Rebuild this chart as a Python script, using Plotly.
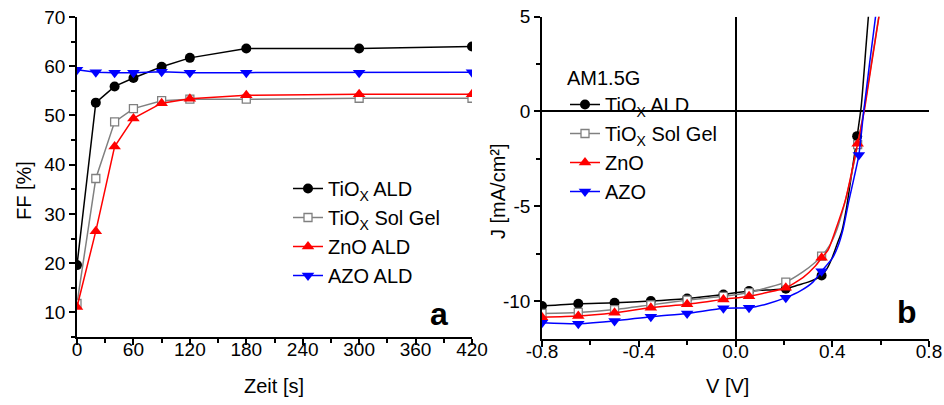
import plotly.graph_objects as go

# ---- Panel a: fill factor vs. annealing time ----
t_s = [0, 20, 40, 60, 90, 120, 180, 300, 420]
ff_tiox_ald = [19.6, 52.6, 55.9, 57.6, 59.9, 61.7, 63.6, 63.6, 64.0]
ff_tiox_solgel = [11.8, 37.2, 48.7, 51.4, 53.0, 53.3, 53.3, 53.5, 53.5]
ff_zno_ald = [11.1, 26.5, 43.7, 49.4, 52.5, 53.4, 54.1, 54.3, 54.3]
ff_azo_ald = [59.3, 58.8, 58.7, 58.7, 58.9, 58.7, 58.7, 58.7, 58.8]

# ---- Panel b: J-V curves under AM1.5G ----
v_tiox_ald = [-0.80, -0.65, -0.50, -0.35, -0.20, -0.05, 0.056, 0.13, 0.208, 0.26, 0.30, 0.33,
              0.356, 0.38, 0.40, 0.42, 0.44, 0.46, 0.48, 0.503, 0.52, 0.54, 0.56]
j_tiox_ald = [-10.26, -10.14, -10.09, -10.00, -9.86, -9.65, -9.47, -9.42, -9.35, -9.15, -9.00, -8.85,
              -8.65, -8.25, -7.70, -7.00, -6.30, -5.00, -3.30, -1.30, 0.30, 3.50, 6.70]
mk_tiox_ald = [0, 1, 2, 3, 4, 5, 6, 8, 12, 19]

v_tiox_sg = [-0.80, -0.65, -0.50, -0.35, -0.20, -0.05, 0.056, 0.13, 0.208, 0.28, 0.33, 0.356,
             0.39, 0.42, 0.45, 0.48, 0.505, 0.53, 0.56, 0.59, 0.62]
j_tiox_sg = [-10.65, -10.60, -10.45, -10.20, -9.95, -9.75, -9.55, -9.30, -9.00, -8.45, -7.95, -7.63,
             -7.05, -6.20, -4.90, -3.30, -1.75, 0.00, 2.40, 4.80, 7.20]
mk_tiox_sg = [0, 1, 2, 3, 4, 5, 6, 8, 11, 16]

v_zno = [-0.80, -0.65, -0.50, -0.35, -0.20, -0.05, 0.056, 0.13, 0.208, 0.28, 0.33, 0.356,
         0.383, 0.415, 0.455, 0.505, 0.532, 0.56, 0.593, 0.62]
j_zno = [-10.85, -10.79, -10.61, -10.35, -10.17, -9.91, -9.74, -9.55, -9.30, -8.75, -8.15, -7.72,
         -7.30, -6.20, -4.65, -1.70, 0.00, 2.30, 5.00, 7.30]
mk_zno = [0, 1, 2, 3, 4, 5, 6, 8, 11, 15]

v_azo = [-0.80, -0.65, -0.50, -0.35, -0.20, -0.05, 0.056, 0.13, 0.208, 0.27, 0.32, 0.356,
         0.40, 0.424, 0.445, 0.469, 0.49, 0.51, 0.53, 0.555, 0.579, 0.60]
j_azo = [-11.14, -11.19, -11.05, -10.82, -10.65, -10.38, -10.35, -10.15, -9.82, -9.45, -9.00, -8.42,
         -7.75, -7.10, -6.20, -4.70, -3.50, -2.30, 0.00, 2.60, 5.00, 7.20]
mk_azo = [0, 1, 2, 3, 4, 5, 6, 8, 11, 17]

# tick labels (plain hyphen minus)
v_ticks = [-0.8, -0.4, 0.0, 0.4, 0.8]
v_ticktext = ["-0.8", "-0.4", "0.0", "0.4", "0.8"]
j_ticks = [-10, -5, 0, 5]
j_ticktext = ["-10", "-5", "0", "5"]

FONT = "Liberation Sans, Arial, sans-serif"
BLACK, GREY, RED, BLUE = "#000000", "#808080", "#ff0000", "#0000ff"

styles = [
    dict(color=BLACK, symbol="circle", fill=BLACK, size=10),
    dict(color=GREY, symbol="square", fill="#ffffff", size=8),
    dict(color=RED, symbol="triangle-up", fill=RED, size=11),
    dict(color=BLUE, symbol="triangle-down", fill=BLUE, size=11),
]


def marker_of(s):
    return dict(symbol=s["symbol"], size=s["size"], color=s["fill"],
                line=dict(color=s["color"], width=1.3 if s["fill"] == "#ffffff" else 0))


fig = go.Figure()

# panel a traces (also fill legend 1)
names_a = ["TiO<sub>X</sub> ALD", "TiO<sub>X</sub> Sol Gel", "ZnO ALD", "AZO ALD"]
series_a = [ff_tiox_ald, ff_tiox_solgel, ff_zno_ald, ff_azo_ald]
for nm, ff, s in zip(names_a, series_a, styles):
    fig.add_trace(go.Scatter(
        x=t_s, y=ff, name=nm, mode="lines+markers",
        line=dict(color=s["color"], width=1.5), marker=marker_of(s),
        xaxis="x", yaxis="y", legend="legend",
    ))

# panel b traces: continuous curve plus sparse markers
names_b = ["TiO<sub>X</sub> ALD", "TiO<sub>X</sub> Sol Gel", "ZnO", "AZO"]
series_b = [(v_tiox_ald, j_tiox_ald, mk_tiox_ald), (v_tiox_sg, j_tiox_sg, mk_tiox_sg),
            (v_zno, j_zno, mk_zno), (v_azo, j_azo, mk_azo)]
for nm, (v, j, mk), s in zip(names_b, series_b, styles):
    fig.add_trace(go.Scatter(
        x=v, y=j, mode="lines", line=dict(color=s["color"], width=1.5, shape="spline", smoothing=0.6),
        xaxis="x2", yaxis="y2", showlegend=False, hoverinfo="skip",
    ))
    fig.add_trace(go.Scatter(
        x=[v[k] for k in mk], y=[j[k] for k in mk], mode="markers", marker=marker_of(s),
        xaxis="x2", yaxis="y2", showlegend=False,
    ))
    # legend entry for the J-V panel
    fig.add_trace(go.Scatter(
        x=[None], y=[None], name=nm, mode="lines+markers",
        line=dict(color=s["color"], width=1.5), marker=marker_of(s),
        xaxis="x2", yaxis="y2", legend="legend2",
    ))

W, H = 944, 405
dom_ax = [77 / W, 472 / W]
dom_ay = [(H - 337) / H, (H - 17) / H]
dom_bx = [542 / W, 929 / W]
dom_by = [(H - 339) / H, (H - 16.7) / H]

tickfont = dict(family=FONT, size=19, color="#000000")
common = dict(showline=True, linecolor="#000000", linewidth=1.5, showgrid=False,
              zeroline=False, tickfont=tickfont, automargin=False)
out_ticks = dict(ticks="outside", ticklen=6, tickwidth=1.5, tickcolor="#000000")
in_ticks = dict(ticks="inside", ticklen=6, tickwidth=1.5, tickcolor="#000000",
                showticklabels=False)


def minor(d, direction):
    return dict(dtick=d, ticks=direction, ticklen=4, tickwidth=1.5, tickcolor="#000000", showgrid=False)


def note(text, px, py, size=20, angle=0):
    return dict(text=text, x=px / W, y=(H - py) / H, xref="paper", yref="paper",
                xanchor="center", yanchor="middle", textangle=angle, showarrow=False,
                font=dict(family=FONT, size=size, color="#000000"))


fig.update_layout(
    width=W, height=H, margin=dict(l=0, r=0, t=0, b=0),
    paper_bgcolor="#ffffff", plot_bgcolor="#ffffff",
    font=dict(family=FONT, size=19, color="#000000"),
    # panel a
    xaxis=dict(domain=dom_ax, anchor="y", range=[0, 420], tickmode="linear", tick0=0, dtick=60,
               ticklabelstandoff=-12, minor=minor(30, "outside"), **out_ticks, **common),
    yaxis=dict(domain=dom_ay, anchor="x", range=[5, 70], tickmode="linear", tick0=10, dtick=10,
               minor=minor(5, "outside"), **out_ticks, **common),
    xaxis3=dict(overlaying="x", anchor="y", side="top", range=[0, 420], tickmode="linear", tick0=0,
                dtick=60, minor=minor(30, "inside"), **in_ticks, **common),
    yaxis3=dict(overlaying="y", anchor="x", side="right", range=[5, 70], tickmode="linear", tick0=10,
                dtick=10, minor=minor(5, "inside"), **in_ticks, **common),
    # panel b
    xaxis2=dict(domain=dom_bx, anchor="y2", range=[-0.8, 0.8], tickmode="array", tickvals=v_ticks,
                ticktext=v_ticktext, ticklabelstandoff=-12,
                minor=dict(tickmode="linear", tick0=0, **minor(0.2, "outside")), **out_ticks,
                **{**common, "zeroline": True}, zerolinecolor="#000000", zerolinewidth=1.5),
    yaxis2=dict(domain=dom_by, anchor="x2", range=[-12, 5], tickmode="array", tickvals=j_ticks,
                ticktext=j_ticktext,
                minor=dict(tickmode="linear", tick0=0, **minor(2.5, "outside")), **out_ticks,
                **{**common, "zeroline": True}, zerolinecolor="#000000", zerolinewidth=1.5),
    xaxis4=dict(overlaying="x2", anchor="y2", side="top", range=[-0.8, 0.8], tickmode="linear", tick0=0,
                dtick=0.4, minor=minor(0.2, "inside"), **in_ticks, **common),
    yaxis4=dict(overlaying="y2", anchor="x2", side="right", range=[-12, 5], tickmode="linear", tick0=0,
                dtick=5, minor=minor(2.5, "inside"), **in_ticks, **common),
    legend=dict(x=288 / W, y=(H - 169) / H, xanchor="left", yanchor="top", bgcolor="rgba(0,0,0,0)",
                font=dict(family=FONT, size=20), tracegroupgap=0, itemwidth=30),
    legend2=dict(x=565 / W, y=(H - 59) / H, xanchor="left", yanchor="top", bgcolor="rgba(0,0,0,0)",
                 font=dict(family=FONT, size=20), tracegroupgap=0,
                 title=dict(text="AM1.5G", font=dict(family=FONT, size=20)), itemwidth=30),
    showlegend=True,
    annotations=[
        note("FF [%]", 24, 191, angle=-90),
        note("Zeit [s]", 274, 386),
        note("J [mA/cm²]", 498, 191, angle=-90),
        note("V [V]", 727, 386),
        note("<b>a</b>", 439, 314, size=32),
        note("<b>b</b>", 907, 312, size=32),
    ],
)

fig.write_html("out.html")
